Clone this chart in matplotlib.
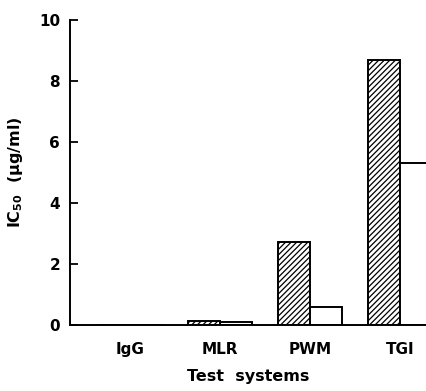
import numpy as np
import matplotlib
matplotlib.use('Agg')
import matplotlib.pyplot as plt

# dati
sistemi = ['IgG', 'MLR', 'PWM', 'TGI']
ic50_tratteggio = [0.0, 0.12, 2.72, 8.7]
ic50_vuoto = [0.0, 0.1, 0.6, 5.3]

plt.rcParams['font.family'] = ['DejaVu Sans']
plt.rcParams['mathtext.fontset'] = 'dejavusans'
plt.rcParams['mathtext.default'] = 'bf'
plt.rcParams['hatch.linewidth'] = 0.9

fig = plt.figure(figsize=(4.26, 3.91), dpi=100)
ax = fig.add_axes([0.164, 0.169, 0.836, 0.78])

x = np.arange(len(sistemi))
w = 0.355
ax.bar(x - w / 2, ic50_tratteggio, w, color='white', edgecolor='black',
       hatch='//////', linewidth=1.4)
ax.bar(x + w / 2, ic50_vuoto, w, color='white', edgecolor='black',
       linewidth=1.4)

ax.set_xlim(-0.667, 3.29)
ax.set_ylim(0, 10)
ax.set_yticks([0, 2, 4, 6, 8, 10])
ax.set_xticks(x)
ax.set_xticklabels(sistemi, fontweight='bold', fontsize=11)
ax.tick_params(axis='x', length=0, pad=12)
ax.tick_params(axis='y', direction='in', length=6, width=1.3, labelsize=11, pad=7)
for lab in ax.get_yticklabels():
    lab.set_fontweight('bold')

ax.spines['top'].set_visible(False)
ax.spines['right'].set_visible(False)
ax.spines['left'].set_linewidth(1.4)
ax.spines['bottom'].set_linewidth(1.4)

ax.set_xlabel('Test  systems', fontweight='bold', fontsize=11.5, labelpad=9)
ax.set_ylabel('IC$_{50}$  (μg/ml)', fontweight='bold', fontsize=11.5, labelpad=10)

fig.savefig('out.png', dpi=100)
